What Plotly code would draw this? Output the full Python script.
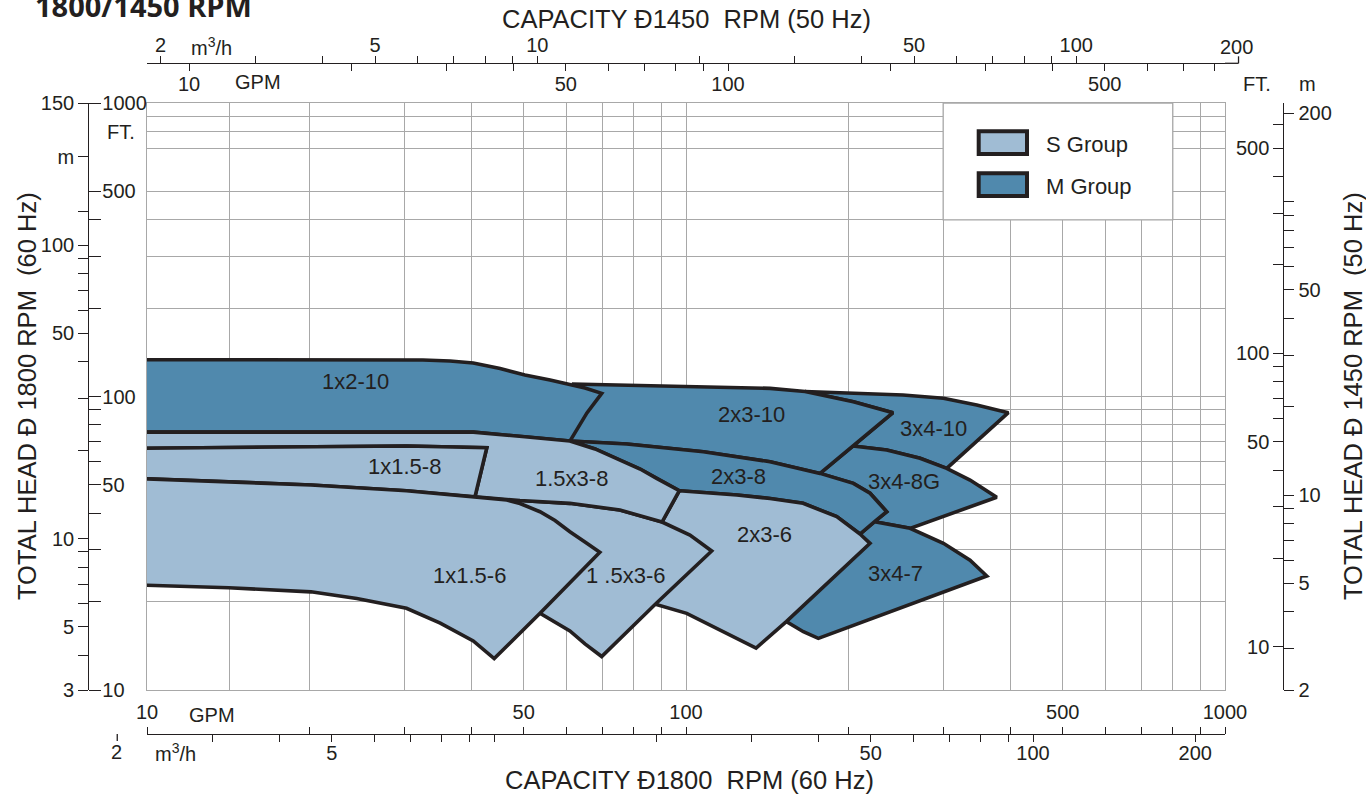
import math
import plotly.graph_objects as go

W, H = 1366, 795

# ---------------- colours / fonts ----------------
FILL_S = "#a0bcd4"
FILL_M = "#5089ad"
EDGE = "#231f20"
GRID = "#a8a8a8"
INK = "#231f20"
FONT = "Liberation Sans, Arial, Helvetica, sans-serif"

# ---------------- scales ----------------
GPM_RANGE = (10, 1000)        # capacity, GPM @1800 rpm (bottom, main axis)
FT_RANGE = (10, 1000)         # head, ft @1800 rpm (left, main axis)
M3H_PER_GPM = 0.2271
M_PER_FT = 1 / 3.2808
TOP_GPM_PER_GPM = 0.8357      # 1450 rpm GPM scale as printed on top
TOP_M3H_PER_GPM = 0.18877     # 1450 rpm m3/h scale as printed on top
RIGHT_FT_PER_FT = 0.7125      # 1450 rpm head (ft) scale as printed on right
RIGHT_M_PER_FT = 1 / 4.613    # 1450 rpm head (m) scale as printed on right

# grid lines (GPM / ft)
X_GRID = [14.2, 20, 30, 40, 50, 60, 70, 80, 90, 100, 200, 300, 400, 500, 600, 700, 800, 900]
Y_GRID = [20, 30, 40, 50, 60, 70, 80, 90, 100, 200, 300, 400, 500, 700, 800, 900]

# ticks and labels
BOT_GPM_TICKS = [10, 20, 30, 40, 50, 60, 70, 80, 90, 100, 200, 300, 400, 500, 600, 700, 800, 900, 1000]
BOT_GPM_LABELS = {10: "10", 50: "50", 100: "100", 500: "500", 1000: "1000"}
BOT_M3H_TICKS = [3, 4, 5, 6, 7, 8, 9, 10, 20, 30, 40, 50, 60, 70, 80, 90, 100, 200]
BOT_M3H_LABELS = {5: "5", 50: "50", 100: "100", 200: "200"}
TOP_M3H_TICKS = [2, 3, 4, 5, 6, 7, 8, 9, 10, 20, 30, 40, 50, 60, 70, 80, 90, 100]
TOP_M3H_LABELS = {2: "2", 5: "5", 10: "10", 50: "50", 100: "100"}
TOP_GPM_TICKS = [10, 20, 30, 40, 50, 60, 70, 80, 90, 100, 200, 300, 400, 500, 600, 700, 800]
TOP_GPM_LABELS = {10: "10", 50: "50", 100: "100", 500: "500"}
LEFT_M_TICKS = [4, 5, 6, 7, 8, 9, 10, 20, 30, 40, 50, 60, 70, 80, 90, 100, 130, 200]
LEFT_M_LABELS = {5: "5", 10: "10", 50: "50", 100: "100", 200: "m"}
LEFT_M_END_LABELS = ("3", "150")
LEFT_FT_TICKS = [10, 20, 30, 40, 50, 60, 70, 80, 90, 100, 200, 300, 400, 500, 1000]
LEFT_FT_LABELS = {10: "10", 50: "50", 100: "100", 500: "500", 1000: "1000"}
RIGHT_FT_TICKS = [10, 20, 30, 40, 50, 60, 70, 80, 90, 100, 200, 300, 400, 500, 600]
RIGHT_FT_LABELS = {10: "10", 50: "50", 100: "100", 500: "500"}
RIGHT_M_TICKS = [3, 4, 5, 6, 7, 8, 9, 10, 20, 30, 40, 50, 60, 70, 80, 90, 100, 200]
RIGHT_M_LABELS = {5: "5", 10: "10", 50: "50", 200: "200"}
RIGHT_M_END_LABEL = "2"
TOP_M3H_END = (200, "200")
BOT_M3H_START = (2, "2")

# ---------------- region boundaries: (GPM, ft) @1800 rpm ----------------
A_TOP_1X2_10 = [(9.5, 133.5), (32.5, 133.2), (36.5, 132.1), (40.3, 130.0), (45.2, 124.5),
                (50.25, 118.4), (55.95, 113.8), (60.1, 110.3), (64.95, 106.9), (69.76, 102.5)]
B_RIGHT_1X2_10 = [(69.76, 102.5), (65.5, 87.9), (60.9, 70.5)]
C_BOT_1X2_10 = [(9.5, 75.6), (40.3, 75.6), (50.25, 72.9), (60.9, 70.5)]
D_TOP_15X3_8 = [(60.9, 70.5), (67.8, 66.25), (75.4, 60.7), (82.2, 56.6), (88.2, 52.6), (97.2, 47.75)]
L_RIGHT_15X3_8 = [(97.2, 47.75), (90.27, 37.36)]
E1_TOP_2X3_8 = [(60.9, 70.5), (77.6, 68.9), (107.7, 64.8), (143.2, 59.95), (177.3, 54.7)]
E2_TOP_2X3_8 = [(177.3, 54.7), (204.4, 50.6), (219.5, 46.8), (235.7, 40.5)]
F1_RIGHT_2X3_8 = [(235.7, 40.5), (223.8, 37.45)]
F2_RIGHT_2X3_8 = [(223.8, 37.45), (210.3, 34.0)]
G1_TOP_2X3_6 = [(97.2, 47.75), (124.3, 46.2), (143.2, 44.9), (164.9, 43.25), (190.4, 38.96), (210.3, 34.0)]
G2_TOP_2X3_6 = [(210.3, 34.0), (219.5, 31.6)]
H1_RIGHT_2X3_6 = [(219.5, 31.6), (153.5, 17.1)]
H2_RIGHT_2X3_6 = [(153.5, 17.1), (134.9, 13.9)]
I_BOT_2X3_6 = [(134.9, 13.9), (115.6, 16.0), (100.3, 18.25), (87.7, 19.6)]
K1_TOP_15X3_6 = [(40.6, 45.57), (49.2, 44.2), (60.9, 43.25), (75.4, 41.05), (90.27, 37.36)]
K2_TOP_15X3_6 = [(90.27, 37.36), (101.7, 33.7), (111.6, 29.76)]
J1_RIGHT_15X3_6 = [(111.6, 29.76), (87.7, 19.6)]
J2_RIGHT_15X3_6 = [(87.7, 19.6), (69.76, 13.0)]
M_BOT_15X3_6 = [(69.76, 13.0), (64.95, 14.35), (60.9, 15.9), (53.6, 18.25)]
K_HIDDEN_15X3_6 = [(53.6, 18.25), (49.2, 27.7), (40.6, 45.57)]
N1_TOP_1X15_6 = [(9.5, 52.6), (14.18, 51.25), (20.15, 49.95), (30.3, 47.75), (40.6, 45.57)]
N2_TOP_1X15_6 = [(40.6, 45.57), (46.5, 44.4), (49.2, 43.2), (53.6, 40.5), (57.15, 37.8),
                 (60.9, 34.6), (64.95, 31.93), (69.2, 29.45)]
O1_RIGHT_1X15_6 = [(69.2, 29.45), (53.6, 18.25)]
O2_RIGHT_1X15_6 = [(53.6, 18.25), (44.07, 12.8)]
P_BOT_1X15_6 = [(44.07, 12.8), (40.3, 14.7), (35.0, 16.9), (30.3, 18.98), (24.5, 20.5),
                (20.15, 21.6), (14.18, 22.3), (9.5, 22.8)]
Q_TOP_1X15_8 = [(9.5, 66.6), (30.3, 67.8), (42.7, 66.9)]
Q_RIGHT_1X15_8 = [(42.7, 66.9), (40.6, 45.57)]
T210A_TOP_2X3_10 = [(61.4, 110.3), (85.8, 109.0), (115.6, 107.3), (143.2, 106.6), (166.3, 103.98)]
T210B_TOP_2X3_10 = [(166.3, 103.98), (204.4, 96.0), (242.1, 88.1)]
R210A_RIGHT_2X3_10 = [(242.1, 88.1), (204.0, 67.8)]
R210B_RIGHT_2X3_10 = [(204.0, 67.8), (177.3, 54.7)]
T3410_TOP_3X4_10 = [(166.3, 103.98), (198.7, 102.5), (252.7, 101.2), (300.3, 98.6), (346.2, 93.5), (396.3, 88.1)]
R3410_RIGHT_3X4_10 = [(396.3, 88.1), (304.6, 56.9)]
T348A_TOP_3X4_8G = [(204.0, 67.8), (235.7, 65.7), (271.8, 61.6), (304.6, 56.9)]
T348B_TOP_3X4_8G = [(304.6, 56.9), (336.5, 51.9), (377.1, 45.36)]
B348_BOT_3X4_8G = [(377.1, 45.36), (260.4, 35.55)]
T347A_TOP_3X4_7 = [(223.8, 37.45), (260.4, 35.55)]
T347B_TOP_3X4_7 = [(260.4, 35.55), (300.3, 31.6), (336.5, 27.7), (361.4, 24.45)]
B347_BOT_3X4_7 = [(361.4, 24.45), (176.0, 15.0), (165.1, 15.8), (153.5, 17.1)]
T347_HIDDEN = [(153.5, 17.1), (210.3, 34.0)]

# region labels (text, GPM, ft)
REGION_NAMES = ["1x2-10", "1x1.5-8", "1.5x3-8", "1x1.5-6", "1 .5x3-6", "2x3-10",
                "2x3-8", "2x3-6", "3x4-10", "3x4-8G", "3x4-7"]
REGION_LABEL_GPM = [24.35, 30.0, 61.4, 39.6, 77.3, 132.4, 125.0, 139.8, 287.6, 254.0, 245.1]
REGION_LABEL_FT = [112.7, 57.8, 52.6, 24.55, 24.5, 87.0, 53.5, 33.8, 77.65, 51.4, 24.97]

LEGEND_NAMES = ["S Group", "M Group"]
LEGEND_COLORS = [FILL_S, FILL_M]


def rev(c):
    return list(reversed(c))


def outline(*parts):
    pts = []
    for part in parts:
        for p in part:
            if not pts or pts[-1] != p:
                pts.append(p)
    if pts[0] != pts[-1]:
        pts.append(pts[0])
    return pts


# drawing order: bottom -> top
REGIONS = [
    ("3x4-10", FILL_M, outline(T3410_TOP_3X4_10, R3410_RIGHT_3X4_10, rev(T348A_TOP_3X4_8G),
                               rev(R210A_RIGHT_2X3_10), rev(T210B_TOP_2X3_10))),
    ("3x4-8G", FILL_M, outline(T348A_TOP_3X4_8G, T348B_TOP_3X4_8G, B348_BOT_3X4_8G,
                               rev(T347A_TOP_3X4_7), rev(F1_RIGHT_2X3_8), rev(E2_TOP_2X3_8))),
    ("3x4-7", FILL_M, outline(T347A_TOP_3X4_7, T347B_TOP_3X4_7, B347_BOT_3X4_7, T347_HIDDEN)),
    ("2x3-10", FILL_M, outline(T210A_TOP_2X3_10, T210B_TOP_2X3_10, R210A_RIGHT_2X3_10,
                               R210B_RIGHT_2X3_10, rev(E1_TOP_2X3_8))),
    ("2x3-8", FILL_M, outline(E1_TOP_2X3_8, E2_TOP_2X3_8, F1_RIGHT_2X3_8, F2_RIGHT_2X3_8,
                              rev(G1_TOP_2X3_6), rev(D_TOP_15X3_8))),
    ("1x2-10", FILL_M, outline(A_TOP_1X2_10, B_RIGHT_1X2_10, rev(C_BOT_1X2_10))),
    ("2x3-6", FILL_S, outline(G1_TOP_2X3_6, G2_TOP_2X3_6, H1_RIGHT_2X3_6, H2_RIGHT_2X3_6,
                              I_BOT_2X3_6, rev(L_RIGHT_15X3_8))),
    ("1.5x3-6", FILL_S, outline(K1_TOP_15X3_6, K2_TOP_15X3_6, J1_RIGHT_15X3_6, J2_RIGHT_15X3_6,
                                M_BOT_15X3_6, K_HIDDEN_15X3_6)),
    ("1.5x3-8", FILL_S, outline(C_BOT_1X2_10, D_TOP_15X3_8, L_RIGHT_15X3_8, rev(K1_TOP_15X3_6),
                                rev(Q_RIGHT_1X15_8), rev(Q_TOP_1X15_8))),
    ("1x1.5-8", FILL_S, outline(Q_TOP_1X15_8, Q_RIGHT_1X15_8, rev(N1_TOP_1X15_6))),
    ("1x1.5-6", FILL_S, outline(N1_TOP_1X15_6, N2_TOP_1X15_6, O1_RIGHT_1X15_6, O2_RIGHT_1X15_6,
                                P_BOT_1X15_6)),
]

# ---------------- page layout (pixels) ----------------
PLOT_L, PLOT_R, PLOT_T, PLOT_B = 147, 1225, 103, 690
LEFT_AX_X, RIGHT_AX_X = 88.3, 1283.3
TOP_AX_Y, BOT_AX_Y = 63.3, 734


def px(x):
    return x / W


def py(y):
    return 1 - y / H


lg = math.log10

fig = go.Figure()
for name, color, pts in REGIONS:
    fig.add_trace(go.Scatter(
        x=[p[0] for p in pts], y=[p[1] for p in pts], mode="lines", fill="toself",
        fillcolor=color, line=dict(color=EDGE, width=3.6), name=name,
        hoverinfo="skip", showlegend=False))

# invisible traces so that every auxiliary axis pair is rendered
for i in range(2, 6):
    fig.add_trace(go.Scatter(x=[None], y=[None], xaxis=f"x{i}", yaxis=f"y{i}",
                             showlegend=False, hoverinfo="skip"))


def aux_axis(lo, hi, vals, texts, **kw):
    d = dict(type="log", range=[lg(lo), lg(hi)], tickvals=vals, ticktext=texts,
             showgrid=False, zeroline=False, tickcolor=INK, tickwidth=1.3,
             linecolor=INK, linewidth=1.3, anchor="free", fixedrange=True,
             automargin=False, ticks="outside",
             tickfont=dict(family=FONT, size=20, color=INK))
    d.update(kw)
    return d


def texts(vals, labels):
    return [labels.get(v, "") for v in vals]


lm_lo, lm_hi = FT_RANGE[0] * M_PER_FT, FT_RANGE[1] * M_PER_FT
rm_lo, rm_hi = FT_RANGE[0] * RIGHT_M_PER_FT, FT_RANGE[1] * RIGHT_M_PER_FT

layout_axes = dict(
    xaxis=dict(type="log", range=[lg(GPM_RANGE[0]), lg(GPM_RANGE[1])], domain=[px(PLOT_L), px(PLOT_R)],
               anchor="y", showgrid=True, gridcolor=GRID, gridwidth=1.3, tickvals=X_GRID,
               ticks="", showticklabels=False, showline=True, mirror=True, linecolor=GRID,
               linewidth=1.3, zeroline=False, fixedrange=True, automargin=False),
    yaxis=dict(type="log", range=[lg(FT_RANGE[0]), lg(FT_RANGE[1])], domain=[py(PLOT_B), py(PLOT_T)],
               anchor="x", showgrid=True, gridcolor=GRID, gridwidth=1.3, tickvals=Y_GRID,
               ticks="", showticklabels=False, showline=True, mirror=True, linecolor=GRID,
               linewidth=1.3, zeroline=False, fixedrange=True, automargin=False),
    # bottom: GPM (above line) and m3/h (below line)
    xaxis2=aux_axis(GPM_RANGE[0], GPM_RANGE[1], BOT_GPM_TICKS, texts(BOT_GPM_TICKS, BOT_GPM_LABELS),
                    overlaying="x", side="top", position=py(BOT_AX_Y), ticklen=7, showline=True),
    xaxis3=aux_axis(GPM_RANGE[0] * M3H_PER_GPM, GPM_RANGE[1] * M3H_PER_GPM, BOT_M3H_TICKS,
                    texts(BOT_M3H_TICKS, BOT_M3H_LABELS), overlaying="x", side="bottom",
                    position=py(BOT_AX_Y), ticklen=7, showline=False, ticklabelstandoff=-6),
    # top: m3/h (above line) and GPM (below line) at 1450 rpm
    xaxis4=aux_axis(GPM_RANGE[0] * TOP_M3H_PER_GPM, GPM_RANGE[1] * TOP_M3H_PER_GPM, TOP_M3H_TICKS,
                    texts(TOP_M3H_TICKS, TOP_M3H_LABELS), overlaying="x", side="top",
                    position=py(TOP_AX_Y), ticklen=7, showline=True, ticklabelstandoff=-4),
    xaxis5=aux_axis(GPM_RANGE[0] * TOP_GPM_PER_GPM, GPM_RANGE[1] * TOP_GPM_PER_GPM, TOP_GPM_TICKS,
                    texts(TOP_GPM_TICKS, TOP_GPM_LABELS), overlaying="x", side="bottom",
                    position=py(TOP_AX_Y), ticklen=7, showline=False, ticklabelstandoff=-4),
    # left: metres (left of line) and feet (right of line) at 1800 rpm
    yaxis2=aux_axis(lm_lo, lm_hi, [lm_lo] + LEFT_M_TICKS + [lm_hi],
                    [LEFT_M_END_LABELS[0]] + texts(LEFT_M_TICKS, LEFT_M_LABELS) + [LEFT_M_END_LABELS[1]],
                    overlaying="y", side="left", position=px(LEFT_AX_X), ticklen=10, showline=True),
    yaxis3=aux_axis(FT_RANGE[0], FT_RANGE[1], LEFT_FT_TICKS, texts(LEFT_FT_TICKS, LEFT_FT_LABELS),
                    overlaying="y", side="right", position=px(LEFT_AX_X), ticklen=12, showline=False,
                    ticklabelstandoff=-3),
    # right: feet (left of line) and metres (right of line) at 1450 rpm
    yaxis4=aux_axis(FT_RANGE[0] * RIGHT_FT_PER_FT, FT_RANGE[1] * RIGHT_FT_PER_FT, RIGHT_FT_TICKS,
                    texts(RIGHT_FT_TICKS, RIGHT_FT_LABELS), overlaying="y", side="left",
                    position=px(RIGHT_AX_X), ticklen=10, showline=False),
    yaxis5=aux_axis(rm_lo, rm_hi, [rm_lo] + RIGHT_M_TICKS,
                    [RIGHT_M_END_LABEL] + texts(RIGHT_M_TICKS, RIGHT_M_LABELS),
                    overlaying="y", side="right", position=px(RIGHT_AX_X), ticklen=10, showline=True),
)

# ---------------- annotations ----------------
ann = []


def text(x, y, s, size=20, xanchor="center", angle=0, bold=False, family=FONT):
    ann.append(dict(x=x, y=y, xref="paper", yref="paper", text=s, showarrow=False,
                    xanchor=xanchor, yanchor="middle", textangle=angle,
                    font=dict(family=family, size=size, color=INK,
                              weight="bold" if bold else "normal")))


NB = "\u00a0"
text(px(33), py(6), "1800/1450 RPM", size=29, xanchor="left", bold=True,
     family="Open Sans, Liberation Sans, sans-serif")
text(px(687), py(19), f"CAPACITY Ð1450{NB}{NB}RPM (50 Hz)", size=25.5)
text(px(689), py(780), f"CAPACITY Ð1800{NB}{NB}RPM (60 Hz)", size=25.5)
text(px(27), py(396), f"TOTAL HEAD Ð 1800 RPM{NB}{NB}(60 Hz)", size=25.5, angle=-90)
text(px(1353), py(396), f"TOTAL HEAD Ð 1450 RPM{NB}{NB}(50 Hz)", size=25.5, angle=-90)
# unit captions
text(px(211), py(47), "m<sup>3</sup>/h")
text(px(258), py(82), "GPM")
text(px(212), py(715), "GPM")
text(px(175), py(752), "m<sup>3</sup>/h")
text(px(121), py(132), "FT.")
text(px(1257), py(84), "FT.")
text(px(1307), py(84), "m")


# end ticks lying just outside the plot width, placed through the axis scales
def x_on(lo, hi, v):
    return PLOT_L + (lg(v) - lg(lo)) / (lg(hi) - lg(lo)) * (PLOT_R - PLOT_L)


x200 = x_on(GPM_RANGE[0] * TOP_M3H_PER_GPM, GPM_RANGE[1] * TOP_M3H_PER_GPM, TOP_M3H_END[0])
x2 = x_on(GPM_RANGE[0] * M3H_PER_GPM, GPM_RANGE[1] * M3H_PER_GPM, BOT_M3H_START[0])
text(px(x200 - 2), py(47), TOP_M3H_END[1])
text(px(x2 - 1), py(752), BOT_M3H_START[1])

for s, g, f in zip(REGION_NAMES, REGION_LABEL_GPM, REGION_LABEL_FT):
    ann.append(dict(x=lg(g), y=lg(f), xref="x", yref="y", text=s, showarrow=False,
                    font=dict(family=FONT, size=22, color=INK)))

# legend text
for i, s in enumerate(LEGEND_NAMES):
    text(px(1044), py(145 + 42 * i), s, size=22, xanchor="left")

shapes = [
    # legend panel
    dict(type="rect", xref="x", yref="y", x0=300, x1=800, y0=400, y1=1000,
         fillcolor="white", line=dict(color=GRID, width=1.3), layer="between"),
    # top axis line continues to the 200 m3/h tick
    dict(type="line", xref="paper", yref="paper", x0=px(PLOT_R), x1=px(x200),
         y0=py(TOP_AX_Y), y1=py(TOP_AX_Y), line=dict(color=INK, width=1.3)),
    dict(type="line", xref="paper", yref="paper", x0=px(x200), x1=px(x200),
         y0=py(TOP_AX_Y), y1=py(TOP_AX_Y - 7), line=dict(color=INK, width=1.3)),
    dict(type="line", xref="paper", yref="paper", x0=px(x2), x1=px(x2),
         y0=py(BOT_AX_Y), y1=py(BOT_AX_Y + 7), line=dict(color=INK, width=1.3)),
]
for i, c in enumerate(LEGEND_COLORS):
    top = 131.3 + 42 * i
    shapes.append(dict(type="rect", xref="paper", yref="paper", x0=px(978.7), x1=px(1027),
                       y0=py(top + 22.7), y1=py(top), fillcolor=c,
                       line=dict(color=EDGE, width=4)))

fig.update_layout(
    width=W, height=H, margin=dict(l=0, r=0, t=0, b=0, pad=0, autoexpand=False),
    paper_bgcolor="white", plot_bgcolor="rgba(0,0,0,0)",
    showlegend=False, annotations=ann, shapes=shapes, **layout_axes)

fig.write_html("out.html", config={"displayModeBar": False},
               post_script="document.body.style.margin='0';")
